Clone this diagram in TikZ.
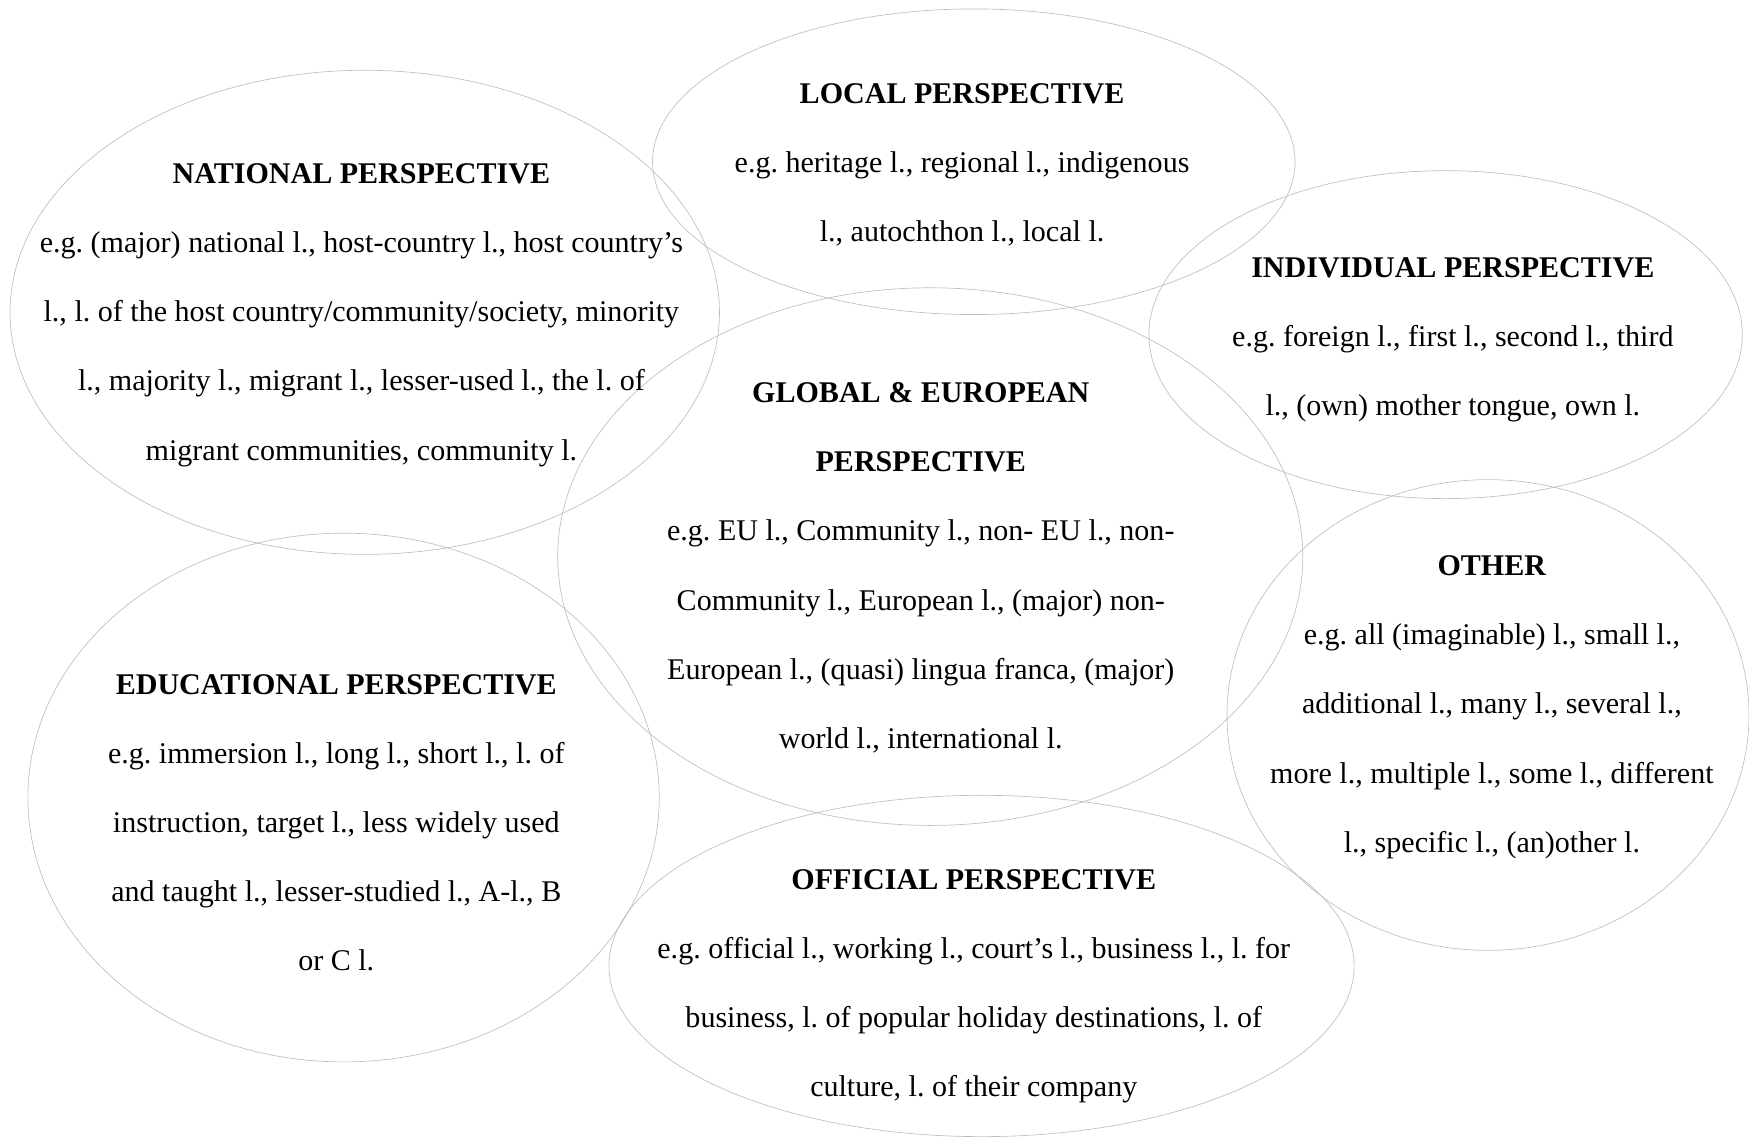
\documentclass[tikz,border=0pt]{standalone}
\usepackage{fontspec}
\setmainfont{Liberation Serif}
\usetikzlibrary{shapes}

\tikzset{
  bubble/.style={color={rgb, 255:red, 190; green, 190; blue, 190 }, draw opacity=1, line width=0.45},
  blurb/.style={align=center, inner sep=0pt, font=\fontsize{20.2}{46.5}\selectfont\frenchspacing}
}

\begin{document}
\begin{tikzpicture}[x=0.75pt,y=0.75pt,yscale=-1,xscale=1]
%set diagram to the size of the page
\useasboundingbox (0,0) rectangle (1568,1020);

%Shape: Ellipse [id:national]
\draw [bubble] (327,280) ellipse (318 and 217);
%Shape: Ellipse [id:local]
\draw [bubble] (873,145) ellipse (288 and 137);
%Shape: Ellipse [id:individual]
\draw [bubble] (1296,300) ellipse (266 and 147);
%Shape: Ellipse [id:global]
\draw [bubble] (834,499) ellipse (334 and 241);
%Shape: Ellipse [id:other]
\draw [bubble] (1334,641) ellipse (234 and 211);
%Shape: Ellipse [id:educational]
\draw [bubble] (308,715) ellipse (283 and 237);
%Shape: Ellipse [id:official]
\draw [bubble] (880,866) ellipse (334 and 153);

% Text Node
\node [blurb] (nationaltxt) at (324,282.5) {\textbf{NATIONAL PERSPECTIVE}\\
  e.g. (major) national l., host-country l., host country’s\\
  l., l. of the host country/community/society, minority\\
  l., majority l., migrant l., lesser-used l., the l. of\\
  migrant communities, community l.};
% Text Node
\node [blurb] (localtxt) at (862.5,147.5) {\textbf{LOCAL PERSPECTIVE}\\
  e.g. heritage l., regional l., indigenous\\
  l., autochthon l., local l.};
% Text Node
\node [blurb] (individualtxt) at (1302.5,304.5) {\textbf{INDIVIDUAL PERSPECTIVE}\\
  e.g. foreign l., first l., second l., third\\
  l., (own) mother tongue, own l.};
% Text Node
\node [blurb] (globaltxt) at (825.5,509) {\textbf{GLOBAL \& EUROPEAN}\\
  \textbf{PERSPECTIVE}\\
  e.g. EU l., Community l., non- EU l., non-\\
  Community l., European l., (major) non-\\
  European l., (quasi) lingua franca, (major)\\
  world l., international l.};
% Text Node
\node [blurb] (othertxt) at (1337.5,634) {\textbf{OTHER}\\
  e.g. all (imaginable) l., small l.,\\
  additional l., many l., several l.,\\
  more l., multiple l., some l., different\\
  l., specific l., (an)other l.};
% Text Node
\node [blurb] (educationaltxt) at (301.5,737.5) {\textbf{EDUCATIONAL PERSPECTIVE}\\
  e.g. immersion l., long l., short l., l. of\\
  instruction, target l., less widely used\\
  and taught l., lesser-studied l., A-l., B\\
  or C l.};
% Text Node
\node [blurb] (officialtxt) at (873,884) {\textbf{OFFICIAL PERSPECTIVE}\\
  e.g. official l., working l., court’s l., business l., l. for\\
  business, l. of popular holiday destinations, l. of\\
  culture, l. of their company};

\end{tikzpicture}
\end{document}
